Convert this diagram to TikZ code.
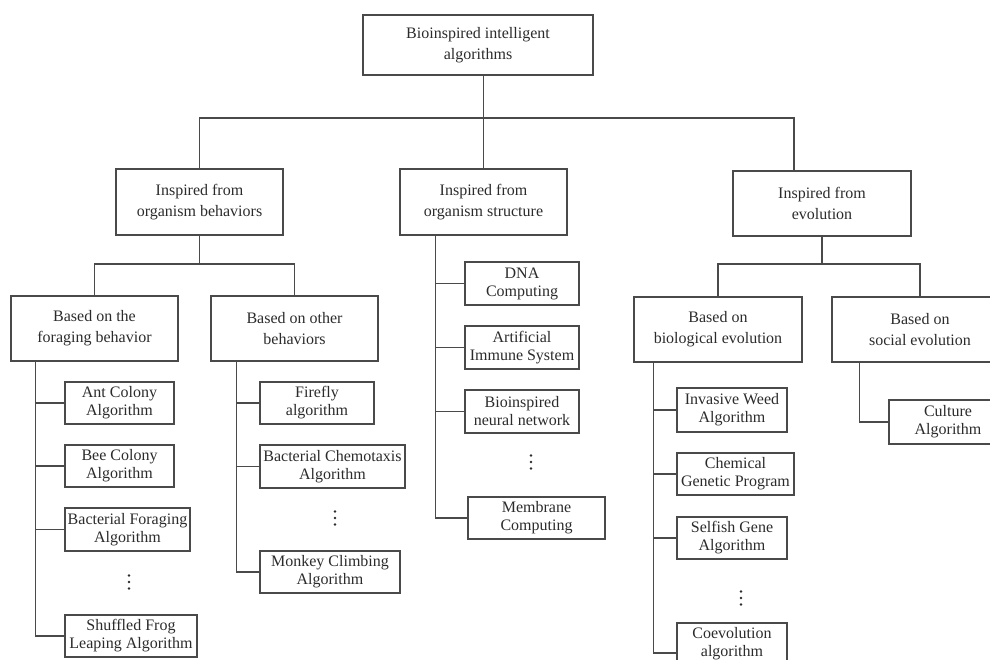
\documentclass[tikz,border=0pt]{standalone}
\usepackage{fontspec}
\setmainfont{Liberation Serif}
\usepackage{xcolor}
\usepackage{tikz}
\definecolor{linegray}{HTML}{4A4A4A}
\definecolor{textgray}{HTML}{2B2B2B}

\begin{document}
\begin{tikzpicture}[x=1pt, y=-1pt,
    box/.style={draw=linegray, line width=1.2pt, align=center, inner sep=0pt,
      text=textgray, font=\fontsize{16}{21}\selectfont},
    catbox/.style={box, minimum width=167, minimum height=65},
    leaf/.style={box, minimum height=42, font=\fontsize{16}{18}\selectfont},
    conn/.style={draw=linegray, line width=1.2pt}]
  % Frame (picture is cut at right and bottom)
  \clip (0,0) rectangle (990,660);

  % Root
  \node[box, minimum width=230, minimum height=60] (root) at (478,45) {Bioinspired intelligent\\algorithms};

  % First level
  \node[catbox, minimum height=66] (beh) at (199.5,202) {Inspired from\\organism behaviors};
  \node[catbox, minimum height=66] (str) at (483.5,202) {Inspired from\\organism structure};
  \node[catbox, minimum width=178] (evo) at (822,203.5) {Inspired from\\evolution};

  % Second level
  \node[catbox] (forag) at (94.5,328.5) {Based on the\\foraging behavior};
  \node[catbox] (other) at (294.5,328.5) {Based on other\\behaviors};
  \node[catbox, minimum width=168] (bio) at (718,329.5) {Based on\\biological evolution};
  \node[catbox, minimum width=176] (soc) at (920,329.5) {Based on\\social evolution};

  % Foraging behavior
  \node[leaf, minimum width=109] (ant) at (119.5,403) {Ant Colony\\Algorithm};
  \node[leaf, minimum width=109] (bee) at (119.5,466) {Bee Colony\\Algorithm};
  \node[leaf, minimum width=125, minimum height=43] (bfa) at (127.5,529.5) {Bacterial Foraging\\Algorithm};
  \coordinate (d1) at (129,582);
  \node[leaf, minimum width=132] (frog) at (131,636) {Shuffled Frog\\Leaping Algorithm};

  % Other behaviors
  \node[leaf, minimum width=114] (fire) at (317,403) {Firefly\\algorithm};
  \node[leaf, minimum width=145, minimum height=43] (chemo) at (332.5,466.5) {Bacterial Chemotaxis\\Algorithm};
  \coordinate (d2) at (335,518);
  \node[leaf, minimum width=140] (monkey) at (330,572) {Monkey Climbing\\Algorithm};

  % Organism structure
  \node[leaf, minimum width=114, minimum height=43] (dna) at (522,283.5) {DNA\\Computing};
  \node[leaf, minimum width=114, minimum height=43] (ais) at (522,347.5) {Artificial\\Immune System};
  \node[leaf, minimum width=114, minimum height=43] (bnn) at (522,411.5) {Bioinspired\\neural network};
  \coordinate (d3) at (531,462);
  \node[leaf, minimum width=137] (memb) at (536.5,518) {Membrane\\Computing};

  % Biological evolution
  \node[leaf, minimum width=110, minimum height=44] (weed) at (732,410) {Invasive Weed\\Algorithm};
  \node[leaf, minimum width=117] (cgp) at (735.5,474) {Chemical\\Genetic Program};
  \node[leaf, minimum width=110] (sgene) at (732,538) {Selfish Gene\\Algorithm};
  \coordinate (d4) at (741,598);
  \node[leaf, minimum width=110] (coev) at (732,644) {Coevolution\\algorithm};

  % Social evolution
  \node[leaf, minimum width=118, minimum height=44] (culture) at (948,422) {Culture\\Algorithm};

  % Vertical dots
  \foreach \d in {d1,d2,d3,d4}
    \foreach \dy in {-6.5,0,6.5}
      \fill[textgray] ([yshift=\dy pt]\d) circle (1.4);

  % Root to first level
  \coordinate (bus1) at (483.5,118);
  \coordinate (evoin) at ([xshift=-28pt]evo.north);
  \draw[conn] (str.north) -- (root.south -| str.north);
  \draw[conn] (beh.north) |- (bus1) -| (evoin);

  % First to second level
  \coordinate (bus2) at (199.5,264);
  \draw[conn] (beh.south) -- (bus2);
  \draw[conn] (forag.north) |- (bus2) -| (other.north);
  \coordinate (bus3) at (822,264);
  \draw[conn] (evo.south) -- (bus3);
  \draw[conn] (bio.north) |- (bus3) -| (soc.north);

  % Trunks to the leaves
  \coordinate (ft) at ([xshift=25pt]forag.south west);
  \draw[conn] (ft) |- (frog.west);
  \foreach \n in {ant,bee,bfa}
    \draw[conn] (ft |- \n.west) -- (\n.west);

  \coordinate (ot) at ([xshift=26pt]other.south west);
  \draw[conn] (ot) |- (monkey.west);
  \foreach \n in {fire,chemo}
    \draw[conn] (ot |- \n.west) -- (\n.west);

  \coordinate (st) at ([xshift=36pt]str.south west);
  \draw[conn] (st) |- (memb.west);
  \foreach \n in {dna,ais,bnn}
    \draw[conn] (st |- \n.west) -- (\n.west);

  \coordinate (bt) at ([xshift=20pt]bio.south west);
  \coordinate (coevin) at ([yshift=-9pt]coev.west);
  \draw[conn] (bt) |- (coevin);
  \foreach \n in {weed,cgp,sgene}
    \draw[conn] (bt |- \n.west) -- (\n.west);

  \coordinate (sct) at ([xshift=28pt]soc.south west);
  \draw[conn] (sct) |- (culture.west);
\end{tikzpicture}
\end{document}
